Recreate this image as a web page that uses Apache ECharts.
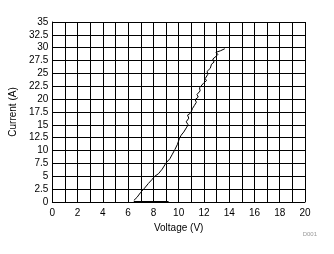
<!DOCTYPE html>
<html><head><meta charset="utf-8">
<script src="https://cdn.jsdelivr.net/npm/echarts@6/dist/echarts.min.js"></script>
<style>html,body{margin:0;padding:0;background:#fff}#c{width:334px;height:254px}</style>
</head><body><div id="c"></div>
<script>
var voltage = [6.45,6.7,7.0,7.3,7.6,7.9,8.1,8.4,8.7,9.0,9.3,9.5,9.7,9.9,10.05,10.2,10.4,10.6,10.75,10.6,10.8,10.7,10.95,11.1,11.25,11.4,11.3,11.55,11.45,11.7,11.65,11.8,12.0,12.2,12.1,12.3,12.25,12.5,12.6,12.8,12.7,12.95,13.1,12.95,13.3,13.65];
var current = [0.3,0.9,1.9,2.7,3.6,4.4,5.0,5.5,6.4,7.6,8.4,9.3,10.2,11.2,12.3,13.0,13.6,14.4,15.0,15.6,16.3,16.9,17.3,18.2,18.8,19.4,19.9,20.4,20.9,21.6,22.2,22.5,23.2,23.6,24.0,24.8,25.4,26.0,26.8,27.2,27.8,28.3,28.7,29.1,29.4,29.8];
var flatVoltage = [6.45, 9.2];
var flatCurrent = [0, 0];
var xTitle = 'Voltage (V)';
var yTitle = 'Current (A)';

var pts = voltage.map(function(v,i){return [v,current[i]];});
var flat = flatVoltage.map(function(v,i){return [v,flatCurrent[i]];});
var chart = echarts.init(document.getElementById('c'), null, {renderer:'canvas'});
var lab = {color:'#000', fontFamily:'Liberation Sans, Arial, sans-serif', fontSize:10};
chart.setOption({
  animation:false,
  grid:{left:50,right:29,top:22,bottom:52,containLabel:false},
  xAxis:{type:'value',min:0,max:20,interval:2,
    name:xTitle,nameLocation:'middle',nameGap:20,nameTextStyle:lab,
    axisLine:{show:true,lineStyle:{color:'#000',width:1}},
    axisTick:{show:false},
    axisLabel:Object.assign({margin:6},lab),
    splitLine:{show:true,lineStyle:{color:'#000',width:1}},
    minorTick:{show:false,splitNumber:2},
    minorSplitLine:{show:true,lineStyle:{color:'#000',width:1}}
  },
  yAxis:{type:'value',min:0,max:35,interval:2.5,
    name:yTitle,nameLocation:'middle',nameGap:30,nameRotate:90,nameTextStyle:lab,
    axisLine:{show:true,lineStyle:{color:'#000',width:1}},
    axisTick:{show:false},
    axisLabel:Object.assign({margin:4},lab),
    splitLine:{show:true,lineStyle:{color:'#000',width:1}}
  },
  graphic:[{type:'text',right:17,top:231,style:{text:'D001',fill:'#999',font:'6px Liberation Sans, Arial, sans-serif'}}],
  series:[
    {type:'line',data:pts,symbol:'none',lineStyle:{color:'#000',width:1},z:5},
    {type:'line',data:flat,symbol:'none',lineStyle:{color:'#000',width:2},z:5}
  ]
});
</script></body></html>
